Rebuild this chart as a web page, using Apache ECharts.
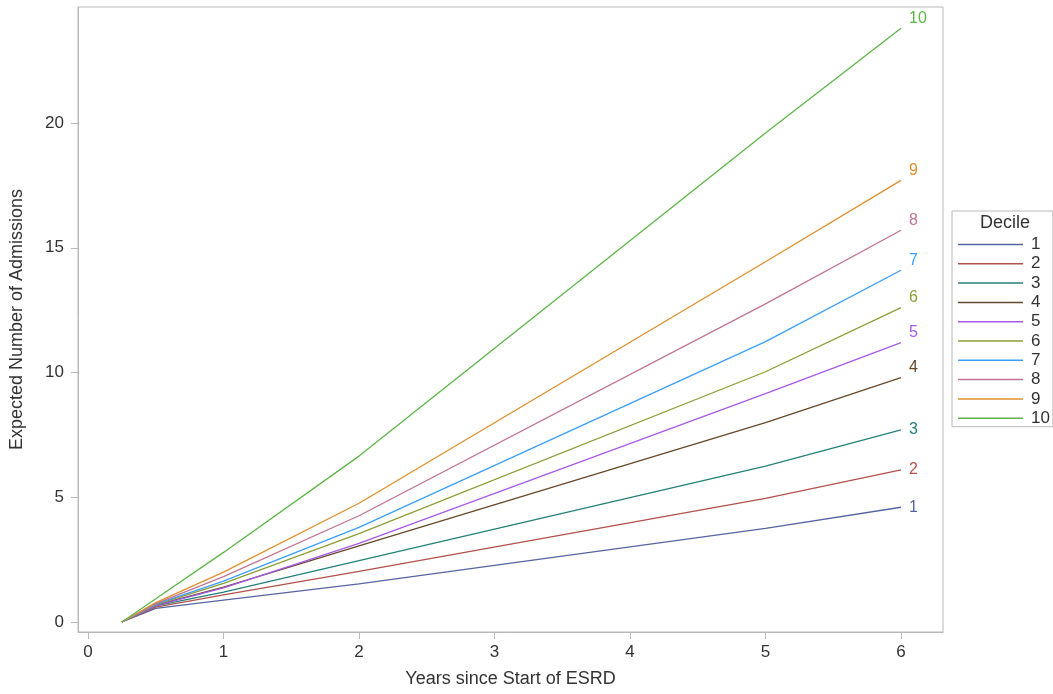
<!DOCTYPE html>
<html>
<head>
<meta charset="utf-8">
<title>Expected Number of Admissions by Decile</title>
<script src="https://cdn.jsdelivr.net/npm/echarts@6/dist/echarts.min.js"></script>
<style>
	html,body{margin:0;padding:0;background:#fff;}
	#chart-main{width:1053px;height:694px;}
</style>
</head>
<body>
<div id="chart-main"></div>
<script>
// years since start, same for every decile
var years = [0.25, 0.5, 1, 2, 5, 6];
var deciles = ['1','2','3','4','5','6','7','8','9','10'];
var d1  = [0, 0.55, 0.88, 1.53, 3.75, 4.6];
var d2  = [0, 0.60, 1.09, 2.03, 4.96, 6.1];
var d3  = [0, 0.65, 1.20, 2.46, 6.25, 7.7];
var d4  = [0, 0.68, 1.40, 3.05, 7.99, 9.8];
var d5  = [0, 0.66, 1.37, 3.15, 9.15, 11.2];
var d6  = [0, 0.70, 1.55, 3.54, 10.03, 12.6];
var d7  = [0, 0.72, 1.64, 3.79, 11.24, 14.1];
var d8  = [0, 0.74, 1.82, 4.26, 12.75, 15.7];
var d9  = [0, 0.78, 2.00, 4.76, 14.44, 17.7];
var d10 = [0, 0.93, 2.79, 6.65, 19.6, 23.8];
var xTicks = [0, 1, 2, 3, 4, 5, 6];
var yTicks = [0, 5, 10, 15, 20];

var allValues = [d1,d2,d3,d4,d5,d6,d7,d8,d9,d10];
var colors = ['#5565a3','#b3524a','#24807a','#66492a','#a85ae6','#8e9c35','#3a9ffb','#c07494','#df8f2c','#5db548'];
var fontName = 'Liberation Sans, Arial, sans-serif';

var myChart = echarts.init(document.getElementById('chart-main'));

var series = [];
for (var i = 0; i < deciles.length; i++) {
	var pts = [];
	for (var j = 0; j < years.length; j++) {
		pts.push([years[j], allValues[i][j]]);
	}
	series.push({
		name: deciles[i],
		type: 'line',
		data: pts,
		symbol: 'none',
		lineStyle: {width: 1.3, color: colors[i]},
		itemStyle: {color: colors[i]},
		endLabel: {
			show: true,
			formatter: '{a}',
			color: colors[i],
			fontFamily: fontName,
			fontSize: 16,
			offset: [0, i < 3 ? 0 : -10] //upper curves have their label lifted a bit
		}
	});
}

option = {
	animation: false,
	grid: {
		left: 77,
		right: 110,
		top: 7,
		bottom: 62,
		show: true,
		borderColor: '#b8b8b8',
		borderWidth: 1
	},
	xAxis: {
		type: 'value',
		min: -0.074,
		max: 6.31,
		name: 'Years since Start of ESRD',
		nameLocation: 'middle',
		nameGap: 38,
		nameTextStyle: {fontFamily: fontName, fontSize: 18, color: '#333'},
		axisLine: {onZero: false, lineStyle: {color: '#b8b8b8'}},
		axisTick: {show: true, inside: false, length: 7, customValues: xTicks, lineStyle: {color: '#b8b8b8'}},
		axisLabel: {customValues: xTicks, margin: 12, fontFamily: fontName, fontSize: 17, color: '#333'},
		splitLine: {show: false}
	},
	yAxis: {
		type: 'value',
		min: -0.40,
		max: 24.65,
		name: 'Expected Number of Admissions',
		nameLocation: 'middle',
		nameGap: 52,
		nameTextStyle: {fontFamily: fontName, fontSize: 18, color: '#333'},
		axisLine: {show: true, onZero: false, lineStyle: {color: '#b8b8b8'}},
		axisTick: {show: true, inside: false, length: 7, customValues: yTicks, lineStyle: {color: '#b8b8b8'}},
		axisLabel: {customValues: yTicks, margin: 14, fontFamily: fontName, fontSize: 17, color: '#333'},
		splitLine: {show: false}
	},
	legend: {
		orient: 'vertical',
		left: 952,
		top: 211,
		data: deciles,
		icon: 'rect',
		padding: [25, 3, 0, 6],
		itemWidth: 65,
		itemHeight: 1.5,
		itemGap: 2.3,
		borderColor: '#b8b8b8',
		borderWidth: 1,
		textStyle: {fontFamily: fontName, fontSize: 17, color: '#333', lineHeight: 16, padding: [0, 0, 0, 3]}
	},
	graphic: [{
		type: 'text',
		x: 1005,
		y: 223,
		style: {
			text: 'Decile',
			align: 'center',
			verticalAlign: 'middle',
			fontFamily: fontName,
			fontSize: 18,
			fill: '#333'
		}
	}],
	series: series
};
myChart.setOption(option);
</script>
</body>
</html>
